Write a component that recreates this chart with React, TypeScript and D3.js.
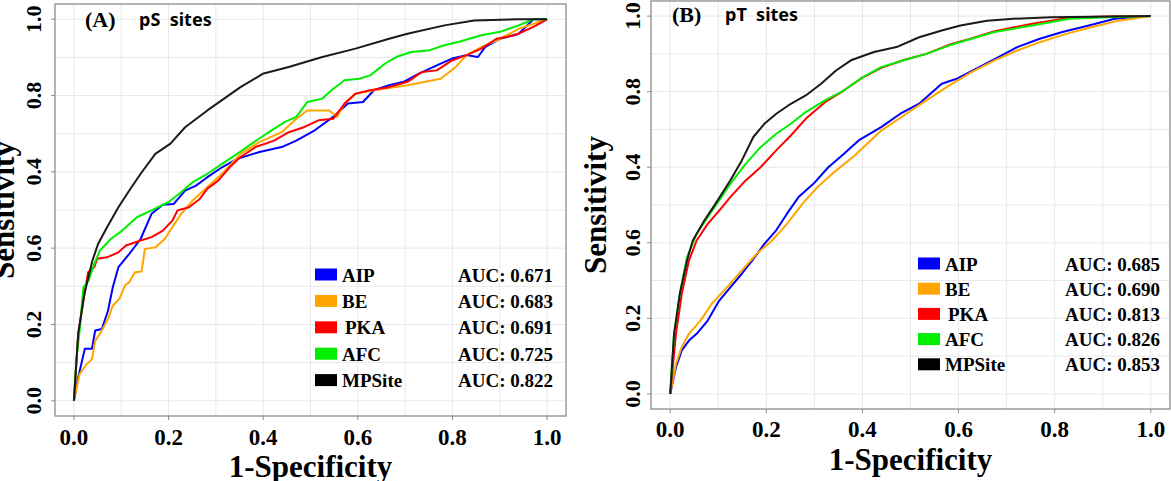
import React, {useEffect, useRef} from "react";
import * as d3 from "d3";

type Pt = [number, number];

const methods = ["AIP", "BE", "PKA", "AFC", "MPSite"];
const methodColors = ["#0000ff", "#ffa500", "#ff0000", "#00ee00", "#1a1a1a"];

const xTickValues = [0, 0.2, 0.4, 0.6, 0.8, 1.0];
const xTickLabels = ["0.0", "0.2", "0.4", "0.6", "0.8", "1.0"];
// the source figure prints the two middle y labels swapped, kept as printed
const yTickLabels = ["0.0", "0.2", "0.6", "0.4", "0.8", "1.0"];
const gridValues = [0, 0.1, 0.2, 0.3, 0.4, 0.5, 0.6, 0.7, 0.8, 0.9, 1.0];

const aucPS = ["0.671", "0.683", "0.691", "0.725", "0.822"];
const aucPT = ["0.685", "0.690", "0.813", "0.826", "0.853"];

// (A) pS sites, points are [1-specificity, sensitivity]
const aipPS: Pt[] = [
	[0, 0], [0.009, 0.061], [0.023, 0.136], [0.038, 0.136], [0.045, 0.184], [0.059, 0.188],
	[0.072, 0.236], [0.082, 0.297], [0.094, 0.35], [0.117, 0.385], [0.141, 0.424], [0.164, 0.49],
	[0.188, 0.514], [0.211, 0.516], [0.235, 0.551], [0.258, 0.564], [0.282, 0.586], [0.313, 0.612],
	[0.345, 0.634], [0.392, 0.652], [0.439, 0.665], [0.47, 0.682], [0.509, 0.709], [0.548, 0.744],
	[0.579, 0.779], [0.611, 0.783], [0.634, 0.814], [0.666, 0.827], [0.697, 0.836], [0.728, 0.857],
	[0.767, 0.879], [0.799, 0.897], [0.83, 0.906], [0.854, 0.901], [0.869, 0.927], [0.901, 0.949],
	[0.94, 0.962], [0.971, 1], [1, 1],
];
const bePS: Pt[] = [
	[0, 0], [0.012, 0.07], [0.027, 0.096], [0.038, 0.109], [0.045, 0.157], [0.059, 0.184],
	[0.072, 0.214], [0.082, 0.249], [0.096, 0.267], [0.108, 0.302], [0.117, 0.311], [0.129, 0.337],
	[0.143, 0.339], [0.15, 0.398], [0.172, 0.402], [0.192, 0.424], [0.208, 0.455], [0.227, 0.49],
	[0.251, 0.525], [0.282, 0.56], [0.313, 0.595], [0.352, 0.647], [0.392, 0.678], [0.439, 0.704],
	[0.47, 0.739], [0.493, 0.761], [0.54, 0.761], [0.556, 0.744], [0.572, 0.779], [0.595, 0.805],
	[0.634, 0.814], [0.705, 0.827], [0.775, 0.844], [0.807, 0.875], [0.83, 0.906], [0.861, 0.927],
	[0.901, 0.949], [0.94, 0.975], [1, 1],
];
const pkaPS: Pt[] = [
	[0, 0], [0.009, 0.175], [0.02, 0.262], [0.03, 0.337], [0.043, 0.35], [0.049, 0.372],
	[0.07, 0.376], [0.094, 0.389], [0.11, 0.407], [0.141, 0.42], [0.164, 0.429], [0.188, 0.446],
	[0.208, 0.472], [0.219, 0.499], [0.243, 0.507], [0.266, 0.529], [0.282, 0.556], [0.305, 0.577],
	[0.329, 0.612], [0.352, 0.639], [0.384, 0.665], [0.423, 0.682], [0.454, 0.704], [0.486, 0.717],
	[0.517, 0.735], [0.548, 0.739], [0.572, 0.779], [0.595, 0.805], [0.626, 0.814], [0.666, 0.822],
	[0.705, 0.836], [0.736, 0.862], [0.767, 0.866], [0.799, 0.892], [0.83, 0.906], [0.861, 0.923],
	[0.893, 0.949], [0.932, 0.958], [0.971, 0.98], [1, 1],
];
const afcPS: Pt[] = [
	[0, 0], [0.005, 0.105], [0.012, 0.184], [0.02, 0.297], [0.031, 0.315], [0.043, 0.359],
	[0.055, 0.394], [0.078, 0.424], [0.102, 0.446], [0.133, 0.481], [0.164, 0.499], [0.2, 0.521],
	[0.227, 0.547], [0.251, 0.573], [0.282, 0.595], [0.313, 0.621], [0.345, 0.647], [0.376, 0.674],
	[0.407, 0.7], [0.446, 0.731], [0.47, 0.744], [0.493, 0.783], [0.525, 0.792], [0.548, 0.818],
	[0.572, 0.84], [0.603, 0.844], [0.626, 0.853], [0.658, 0.884], [0.681, 0.901], [0.713, 0.914],
	[0.752, 0.919], [0.783, 0.932], [0.814, 0.941], [0.861, 0.958], [0.901, 0.967], [0.94, 0.984],
	[0.971, 1], [1, 1],
];
const mpsitePS: Pt[] = [
	[0, 0], [0.009, 0.175], [0.022, 0.28], [0.039, 0.367], [0.051, 0.411], [0.07, 0.455],
	[0.094, 0.507], [0.117, 0.551], [0.141, 0.595], [0.172, 0.647], [0.204, 0.674], [0.235, 0.717],
	[0.282, 0.761], [0.352, 0.822], [0.399, 0.857], [0.454, 0.875], [0.525, 0.901], [0.595, 0.923],
	[0.666, 0.949], [0.705, 0.962], [0.783, 0.984], [0.846, 0.997], [0.94, 1], [1, 1],
];

// (B) pT sites
const aipPT: Pt[] = [
	[0, 0], [0.012, 0.071], [0.024, 0.115], [0.039, 0.141], [0.055, 0.159], [0.078, 0.194],
	[0.102, 0.247], [0.125, 0.282], [0.149, 0.318], [0.173, 0.357], [0.196, 0.397], [0.22, 0.432],
	[0.243, 0.477], [0.267, 0.521], [0.298, 0.556], [0.329, 0.6], [0.361, 0.635], [0.392, 0.671],
	[0.439, 0.706], [0.478, 0.741], [0.518, 0.768], [0.565, 0.821], [0.596, 0.834], [0.643, 0.865],
	[0.682, 0.891], [0.722, 0.918], [0.769, 0.94], [0.816, 0.958], [0.871, 0.975], [0.925, 0.993],
	[1, 1],
];
const bePT: Pt[] = [
	[0, 0], [0.012, 0.079], [0.024, 0.124], [0.039, 0.159], [0.063, 0.194], [0.086, 0.238],
	[0.118, 0.282], [0.149, 0.327], [0.18, 0.371], [0.212, 0.406], [0.243, 0.45], [0.275, 0.503],
	[0.306, 0.547], [0.345, 0.591], [0.384, 0.631], [0.439, 0.697], [0.486, 0.737], [0.533, 0.777],
	[0.58, 0.816], [0.627, 0.852], [0.675, 0.883], [0.722, 0.909], [0.769, 0.931], [0.824, 0.953],
	[0.878, 0.971], [0.933, 0.988], [1, 1],
];
const pkaPT: Pt[] = [
	[0, 0], [0.012, 0.159], [0.024, 0.265], [0.039, 0.353], [0.055, 0.406], [0.078, 0.45],
	[0.102, 0.485], [0.125, 0.521], [0.157, 0.565], [0.188, 0.6], [0.22, 0.644], [0.251, 0.684],
	[0.282, 0.728], [0.302, 0.75], [0.322, 0.772], [0.361, 0.803], [0.4, 0.837], [0.439, 0.863],
	[0.486, 0.884], [0.533, 0.9], [0.58, 0.924], [0.627, 0.941], [0.675, 0.96], [0.753, 0.98],
	[0.831, 0.996], [0.91, 0.999], [1, 1],
];
const afcPT: Pt[] = [
	[0, 0], [0.008, 0.159], [0.02, 0.265], [0.035, 0.362], [0.055, 0.424], [0.078, 0.468],
	[0.102, 0.512], [0.125, 0.556], [0.157, 0.609], [0.188, 0.653], [0.22, 0.688], [0.251, 0.715],
	[0.282, 0.746], [0.322, 0.777], [0.361, 0.803], [0.4, 0.838], [0.439, 0.865], [0.486, 0.883],
	[0.533, 0.9], [0.58, 0.922], [0.627, 0.94], [0.675, 0.958], [0.753, 0.975], [0.831, 0.993],
	[0.91, 0.997], [1, 1],
];
const mpsitePT: Pt[] = [
	[0, 0], [0.008, 0.159], [0.02, 0.265], [0.035, 0.353], [0.047, 0.406], [0.071, 0.459],
	[0.094, 0.503], [0.125, 0.565], [0.149, 0.618], [0.173, 0.68], [0.196, 0.715], [0.22, 0.741],
	[0.251, 0.768], [0.282, 0.79], [0.314, 0.821], [0.345, 0.856], [0.376, 0.883], [0.424, 0.905],
	[0.471, 0.918], [0.518, 0.944], [0.565, 0.962], [0.604, 0.975], [0.659, 0.988], [0.714, 0.993],
	[0.792, 0.997], [1, 1],
];

const WIDTH = 1171;
const HEIGHT = 481;
const SERIF = "'Liberation Serif', 'Times New Roman', serif";
const SANS = "'Noto Sans', 'Liberation Sans', sans-serif";

const panels = [
	{
		series: [aipPS, bePS, pkaPS, afcPS, mpsitePS],
		auc: aucPS,
		tag: "(A)",
		subtitle: "pS  sites",
		box: {left: 55, right: 566, top: 4, bottom: 416},
		yLabelX: 41,
		xLabelY: 445,
		xTitleY: 477,
		yTitleX: 14,
		tagX: 85,
		tagY: 27,
		subX: 139,
		legendX: 315,
		legendY: 274.5,
		legendStep: 26.4,
		aucX: 553,
	},
	{
		series: [aipPT, bePT, pkaPT, afcPT, mpsitePT],
		auc: aucPT,
		tag: "(B)",
		subtitle: "pT  sites",
		box: {left: 651, right: 1170, top: 1, bottom: 409},
		yLabelX: 640,
		xLabelY: 437,
		xTitleY: 470,
		yTitleX: 606,
		tagX: 672,
		tagY: 22,
		subX: 725,
		legendX: 918,
		legendY: 263.5,
		legendStep: 25.2,
		aucX: 1160,
	},
];

const App: React.FC = () => {
	const svgRef = useRef<SVGSVGElement>(null);

	useEffect(() => {
		document.body.style.margin = "0";
		const svg = d3.select(svgRef.current);
		svg.selectAll("*").remove();

		svg.append("rect").attr("width", WIDTH).attr("height", HEIGHT).attr("fill", "#fff");

		panels.forEach((p) => {
			const {box} = p;
			// ggplot style 4% expansion on both axes
			const x = d3.scaleLinear().domain([-0.04, 1.04]).range([box.left, box.right]);
			const y = d3.scaleLinear().domain([-0.04, 1.04]).range([box.bottom, box.top]);
			const g = svg.append("g");

			// grid
			g.selectAll(".vgrid")
				.data(gridValues)
				.enter()
				.append("line")
				.attr("x1", (d) => x(d))
				.attr("x2", (d) => x(d))
				.attr("y1", box.top)
				.attr("y2", box.bottom)
				.attr("stroke", "#e8e8e8")
				.attr("stroke-width", 1);
			g.selectAll(".hgrid")
				.data(gridValues)
				.enter()
				.append("line")
				.attr("y1", (d) => y(d))
				.attr("y2", (d) => y(d))
				.attr("x1", box.left)
				.attr("x2", box.right)
				.attr("stroke", "#e8e8e8")
				.attr("stroke-width", 1);

			// curves
			const line = d3
				.line<Pt>()
				.x((d) => x(d[0]))
				.y((d) => y(d[1]));
			p.series.forEach((s, i) => {
				g.append("path")
					.datum(s)
					.attr("d", line)
					.attr("fill", "none")
					.attr("stroke", methodColors[i])
					.attr("stroke-width", 2)
					.attr("stroke-linejoin", "round");
			});

			// panel border
			g.append("rect")
				.attr("x", box.left)
				.attr("y", box.top)
				.attr("width", box.right - box.left)
				.attr("height", box.bottom - box.top)
				.attr("fill", "none")
				.attr("stroke", "#8c8c8c")
				.attr("stroke-width", 1.3);

			// ticks
			g.selectAll(".xtick")
				.data(xTickValues)
				.enter()
				.append("line")
				.attr("x1", (d) => x(d))
				.attr("x2", (d) => x(d))
				.attr("y1", box.bottom)
				.attr("y2", box.bottom + 4)
				.attr("stroke", "#8c8c8c");
			g.selectAll(".ytick")
				.data(xTickValues)
				.enter()
				.append("line")
				.attr("y1", (d) => y(d))
				.attr("y2", (d) => y(d))
				.attr("x1", box.left - 4)
				.attr("x2", box.left)
				.attr("stroke", "#8c8c8c");

			// tick labels
			g.selectAll(".xlab")
				.data(xTickValues)
				.enter()
				.append("text")
				.attr("x", (d) => x(d))
				.attr("y", p.xLabelY)
				.attr("text-anchor", "middle")
				.style("font-family", SERIF)
				.style("font-weight", "bold")
				.style("font-size", "23px")
				.text((d, i) => xTickLabels[i]);
			g.selectAll(".ylab")
				.data(xTickValues)
				.enter()
				.append("text")
				.attr("transform", (d) => `translate(${p.yLabelX}, ${y(d)}) rotate(-90)`)
				.attr("text-anchor", "middle")
				.style("font-family", SERIF)
				.style("font-weight", "bold")
				.style("font-size", "22px")
				.text((d, i) => yTickLabels[i]);

			// axis titles
			g.append("text")
				.attr("x", x(0.5))
				.attr("y", p.xTitleY)
				.attr("text-anchor", "middle")
				.style("font-family", SERIF)
				.style("font-weight", "bold")
				.style("font-size", "31px")
				.text("1-Specificity");
			g.append("text")
				.attr("transform", `translate(${p.yTitleX}, ${y(0.5)}) rotate(-90)`)
				.attr("text-anchor", "middle")
				.style("font-family", SERIF)
				.style("font-weight", "bold")
				.style("font-size", "31px")
				.text("Sensitivity");

			// panel tag and subtitle
			g.append("text")
				.attr("x", p.tagX)
				.attr("y", p.tagY)
				.style("font-family", SERIF)
				.style("font-weight", "bold")
				.style("font-size", "22px")
				.text(p.tag);
			g.append("text")
				.attr("x", p.subX)
				.attr("y", p.tagY - 1)
				.style("font-family", SANS)
				.style("font-weight", "bold")
				.style("font-size", "18px")
				.style("white-space", "pre")
				.text(p.subtitle);

			// legend
			methods.forEach((m, i) => {
				const cy = p.legendY + i * p.legendStep;
				g.append("rect")
					.attr("x", p.legendX)
					.attr("y", cy - 6)
					.attr("width", 22)
					.attr("height", 12)
					.attr("fill", methodColors[i] === "#1a1a1a" ? "#000" : methodColors[i]);
				g.append("text")
					.attr("x", p.legendX + 27 + (m === "PKA" ? 3 : 0))
					.attr("y", cy + 7)
					.style("font-family", SERIF)
					.style("font-weight", "bold")
					.style("font-size", "19px")
					.text(m);
				g.append("text")
					.attr("x", p.aucX)
					.attr("y", cy + 7)
					.attr("text-anchor", "end")
					.style("font-family", SERIF)
					.style("font-weight", "bold")
					.style("font-size", "19px")
					.text(`AUC: ${p.auc[i]}`);
			});
		});
	}, []);

	return <svg ref={svgRef} width={WIDTH} height={HEIGHT} style={{display: "block"}} />;
};

export default App;
